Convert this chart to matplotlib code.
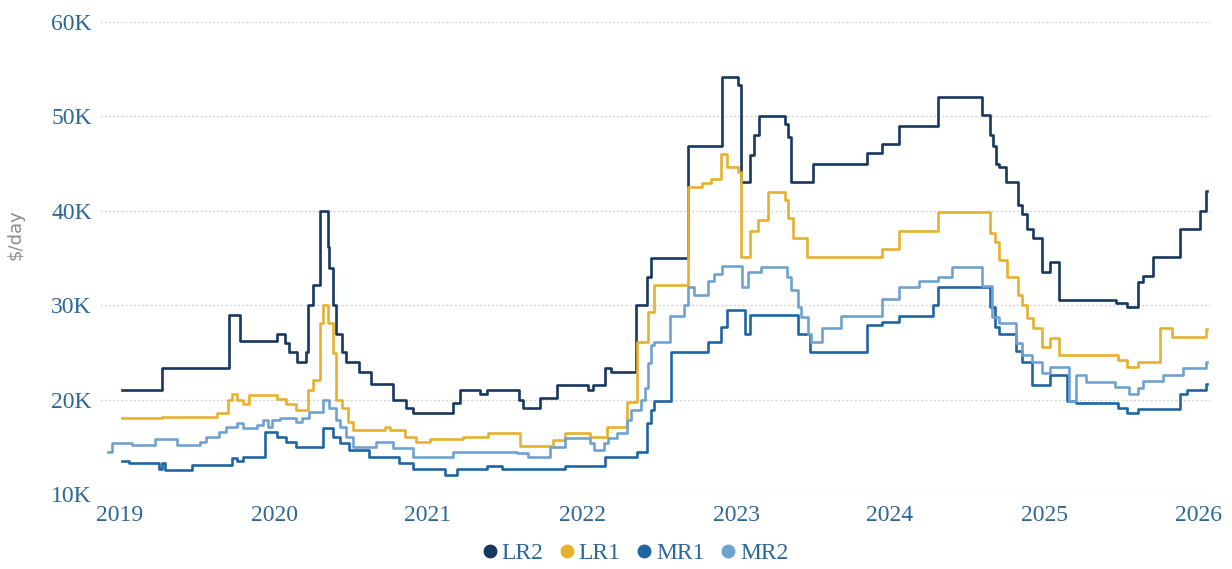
import matplotlib
matplotlib.use("Agg")
from matplotlib import pyplot as plt
from matplotlib.lines import Line2D

# step series as (decimal year, value in K $/day)
lr2 = [(2019.01, 21.0), (2019.27, 23.4), (2019.71, 29.0), (2019.78, 26.2), (2020.02, 27.0),
       (2020.07, 26.0), (2020.10, 25.0), (2020.15, 24.0), (2020.21, 25.0), (2020.22, 30.0),
       (2020.25, 32.1), (2020.30, 40.0), (2020.35, 36.2), (2020.36, 33.9), (2020.38, 30.0),
       (2020.40, 27.0), (2020.44, 25.0), (2020.47, 24.0), (2020.55, 22.9), (2020.63, 21.7),
       (2020.77, 20.0), (2020.86, 19.1), (2020.90, 18.6), (2021.16, 19.6), (2021.21, 21.0),
       (2021.34, 20.6), (2021.38, 21.0), (2021.59, 20.0), (2021.62, 19.1), (2021.73, 20.2),
       (2021.84, 21.5), (2022.04, 21.0), (2022.07, 21.5), (2022.15, 23.4), (2022.19, 22.9),
       (2022.35, 30.0), (2022.42, 33.0), (2022.45, 35.0), (2022.69, 46.9), (2022.91, 54.2),
       (2023.01, 53.3), (2023.03, 43.0), (2023.09, 45.9), (2023.12, 48.0), (2023.15, 50.0),
       (2023.32, 49.2), (2023.34, 47.8), (2023.36, 43.0), (2023.50, 45.0), (2023.85, 46.1),
       (2023.95, 47.1), (2024.06, 49.0), (2024.31, 52.1), (2024.60, 50.1), (2024.65, 48.0),
       (2024.67, 46.9), (2024.69, 45.0), (2024.71, 44.6), (2024.75, 43.0), (2024.83, 40.6),
       (2024.86, 39.7), (2024.89, 38.1), (2024.93, 37.1), (2024.99, 33.5), (2025.04, 34.6),
       (2025.10, 30.6), (2025.47, 30.2), (2025.54, 29.8), (2025.61, 32.5), (2025.64, 33.1),
       (2025.71, 35.1), (2025.88, 38.1), (2026.01, 40.0), (2026.05, 42.1), (2026.06, 42.1)]

lr1 = [(2019.01, 18.0), (2019.27, 18.2), (2019.63, 18.6), (2019.70, 20.0), (2019.73, 20.6),
       (2019.76, 20.0), (2019.80, 19.5), (2019.84, 20.5), (2020.02, 20.1), (2020.08, 19.5),
       (2020.14, 18.9), (2020.22, 21.0), (2020.25, 22.1), (2020.30, 28.1), (2020.32, 30.0),
       (2020.35, 28.1), (2020.38, 24.9), (2020.40, 20.0), (2020.44, 19.1), (2020.48, 17.6),
       (2020.51, 16.8), (2020.72, 17.1), (2020.75, 16.8), (2020.85, 16.0), (2020.92, 15.5),
       (2021.01, 15.8), (2021.23, 16.0), (2021.39, 16.5), (2021.60, 15.1), (2021.81, 15.7),
       (2021.89, 16.5), (2022.05, 16.0), (2022.16, 17.1), (2022.29, 19.7), (2022.36, 26.1),
       (2022.43, 29.3), (2022.47, 32.1), (2022.69, 42.5), (2022.78, 42.9), (2022.84, 43.4),
       (2022.90, 46.0), (2022.94, 44.6), (2023.01, 44.1), (2023.03, 35.1), (2023.09, 37.9),
       (2023.14, 39.0), (2023.21, 42.0), (2023.32, 41.1), (2023.34, 39.2), (2023.37, 37.1),
       (2023.46, 35.1), (2023.95, 36.0), (2024.06, 37.9), (2024.31, 39.9), (2024.65, 37.7),
       (2024.68, 36.7), (2024.71, 34.8), (2024.76, 33.0), (2024.83, 31.1), (2024.86, 30.0),
       (2024.89, 28.6), (2024.93, 27.6), (2024.99, 25.6), (2025.04, 26.5), (2025.10, 24.7),
       (2025.48, 24.2), (2025.54, 23.5), (2025.61, 24.0), (2025.75, 27.6), (2025.83, 26.6),
       (2026.05, 27.5), (2026.06, 27.5)]

mr1 = [(2019.01, 13.5), (2019.06, 13.3), (2019.25, 12.7), (2019.27, 13.3), (2019.29, 12.5),
       (2019.47, 13.1), (2019.73, 13.8), (2019.76, 13.5), (2019.80, 13.9), (2019.94, 16.6),
       (2020.02, 16.0), (2020.08, 15.5), (2020.14, 15.0), (2020.32, 17.0), (2020.38, 16.0),
       (2020.43, 15.4), (2020.49, 14.7), (2020.62, 13.9), (2020.81, 13.3), (2020.90, 12.6),
       (2021.11, 12.0), (2021.19, 12.6), (2021.38, 13.0), (2021.48, 12.6), (2021.89, 13.0),
       (2022.15, 13.9), (2022.36, 14.4), (2022.42, 17.5), (2022.45, 18.9), (2022.47, 19.9),
       (2022.58, 25.0), (2022.82, 26.1), (2022.90, 27.7), (2022.94, 29.5), (2023.06, 27.0),
       (2023.09, 29.0), (2023.40, 27.0), (2023.48, 25.0), (2023.85, 27.9), (2023.95, 28.2),
       (2024.06, 28.9), (2024.28, 30.0), (2024.31, 31.9), (2024.65, 29.8), (2024.68, 27.7),
       (2024.71, 27.0), (2024.82, 25.2), (2024.86, 24.0), (2024.92, 21.5), (2025.04, 22.6),
       (2025.15, 19.9), (2025.21, 19.6), (2025.48, 19.1), (2025.54, 18.6), (2025.61, 19.0),
       (2025.88, 20.6), (2025.93, 21.0), (2026.05, 21.7), (2026.06, 21.7)]

mr2 = [(2018.92, 14.4), (2018.95, 15.4), (2019.08, 15.2), (2019.23, 15.8), (2019.37, 15.2),
       (2019.52, 15.5), (2019.56, 16.0), (2019.64, 16.6), (2019.69, 17.1), (2019.76, 17.5),
       (2019.80, 17.0), (2019.89, 17.3), (2019.93, 17.8), (2019.96, 17.1), (2019.99, 17.8),
       (2020.04, 18.1), (2020.14, 17.6), (2020.18, 18.1), (2020.23, 18.7), (2020.32, 20.0),
       (2020.36, 19.1), (2020.40, 17.8), (2020.43, 17.1), (2020.47, 16.0), (2020.51, 15.0),
       (2020.66, 15.5), (2020.77, 14.9), (2020.90, 13.9), (2021.16, 14.5), (2021.58, 14.3),
       (2021.65, 13.9), (2021.79, 15.0), (2021.89, 15.9), (2022.05, 15.4), (2022.08, 14.7),
       (2022.14, 15.4), (2022.17, 15.9), (2022.23, 16.5), (2022.29, 17.8), (2022.32, 18.9),
       (2022.38, 20.0), (2022.41, 21.2), (2022.43, 23.9), (2022.45, 25.8), (2022.47, 26.1),
       (2022.57, 28.9), (2022.66, 30.0), (2022.69, 31.9), (2022.73, 31.1), (2022.82, 32.6),
       (2022.86, 33.3), (2022.91, 34.1), (2023.04, 31.9), (2023.08, 33.5), (2023.16, 34.0),
       (2023.33, 33.0), (2023.36, 31.6), (2023.40, 29.8), (2023.42, 28.7), (2023.47, 27.0),
       (2023.49, 26.1), (2023.56, 27.6), (2023.68, 28.9), (2023.95, 30.7), (2024.06, 31.9),
       (2024.19, 32.6), (2024.31, 33.0), (2024.40, 34.0), (2024.60, 32.0), (2024.66, 28.7),
       (2024.71, 28.1), (2024.82, 26.0), (2024.86, 24.7), (2024.92, 24.0), (2024.99, 22.8),
       (2025.04, 23.5), (2025.16, 19.9), (2025.21, 22.6), (2025.27, 21.9), (2025.46, 21.3),
       (2025.55, 20.6), (2025.61, 21.2), (2025.64, 22.0), (2025.77, 22.6), (2025.90, 23.3),
       (2026.05, 24.0), (2026.06, 24.0)]

series_names = ['LR2', 'LR1', 'MR1', 'MR2']
series_data = [lr2, lr1, mr1, mr2]
series_colors = ['#17375e', '#e6b12e', '#1f65a3', '#6fa2cf']

years = [2019, 2020, 2021, 2022, 2023, 2024, 2025, 2026]
y_ticks = [10, 20, 30, 40, 50, 60]

tick_color = '#2b6797'
serif = ['Liberation Serif', 'DejaVu Serif']

fig = plt.figure(figsize=(12.32, 5.69), dpi=100)
ax = fig.add_axes([100/1232, 1 - 494/569, 1110/1232, 472/569])

for name, data, color in zip(series_names, series_data, series_colors):
    xs = [p[0] for p in data]
    ys = [p[1] for p in data]
    ax.step(xs, ys, where='post', color=color, lw=1.9, label=name)

ax.set_xlim(2019 - 20/154, 2019 + 1090/154)
ax.set_ylim(10, 60)
ax.set_yticks(y_ticks)
ax.set_yticklabels(['%dK' % v for v in y_ticks])
ax.set_xticks(years)
ax.set_xticklabels([str(y) for y in years])
for lab in ax.get_xticklabels() + ax.get_yticklabels():
    lab.set_family(serif)
    lab.set_fontsize(17)
    lab.set_color(tick_color)
ax.tick_params(axis='both', length=0)
ax.tick_params(axis='x', pad=8)
ax.tick_params(axis='y', pad=6)

ax.grid(axis='y', color='#d4d4d4', linestyle=(0, (1.5, 1.5)), lw=1)
ax.set_axisbelow(True)
for s in ax.spines.values():
    s.set_visible(False)

ax.set_ylabel('$/day', color='#8c8c8c', fontsize=13)
ax.yaxis.set_label_coords(-0.068, 0.55)

handles = [Line2D([], [], ls='none', marker='o', ms=9, color=c) for c in series_colors]
fig.legend(handles, series_names, loc='center', bbox_to_anchor=(633/1232, 1 - 553/569),
           ncol=4, frameon=False, handletextpad=0.0, columnspacing=0.5, handlelength=1.0,
           prop={'family': serif, 'size': 17}, labelcolor=tick_color)

plt.savefig('out.png', dpi=100)
